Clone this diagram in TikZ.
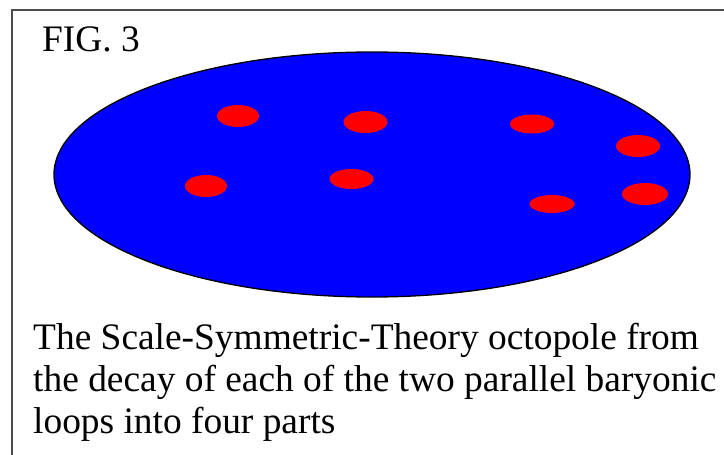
\documentclass[tikz,border=0pt]{standalone}
\usepackage{fontspec}
\setmainfont{Liberation Serif}
\usetikzlibrary{positioning}

\begin{document}
\begin{tikzpicture}[x=1pt, y=-1pt,
    bigtext/.style={anchor=base west, inner sep=0pt, font=\fontsize{37.4}{42}\selectfont},
    disc/.style={fill=blue, draw=black, line width=1.3pt},
    spot/.style={fill=red}]
    \useasboundingbox (0,0) rectangle (724,455);
    % frame, cut at right and bottom
    \draw[line width=2pt, black!70] (12,455) -- (12,10) -- (724,10);
    \node[bigtext] (fig) at (42,52) {FIG. 3};
    % octopole
    \draw[disc] (372,174.5) ellipse [x radius=318, y radius=122.5];
    \foreach \cx/\cy/\rx/\ry in {238/116/21/11, 365.5/122/22/11, 206/186/21/11,
        351.5/179/22/10, 532/124/22/9.5, 638/146/22/11, 645/194/23/11, 552/204/22.5/9}
      \fill[spot] (\cx,\cy) ellipse [x radius=\rx, y radius=\ry];
    \node[bigtext, align=left] (caption) at (33,433) {
      The Scale-Symmetric-Theory octopole from\\
      the decay of each of the two parallel baryonic\\
      loops into four parts};
\end{tikzpicture}
\end{document}
